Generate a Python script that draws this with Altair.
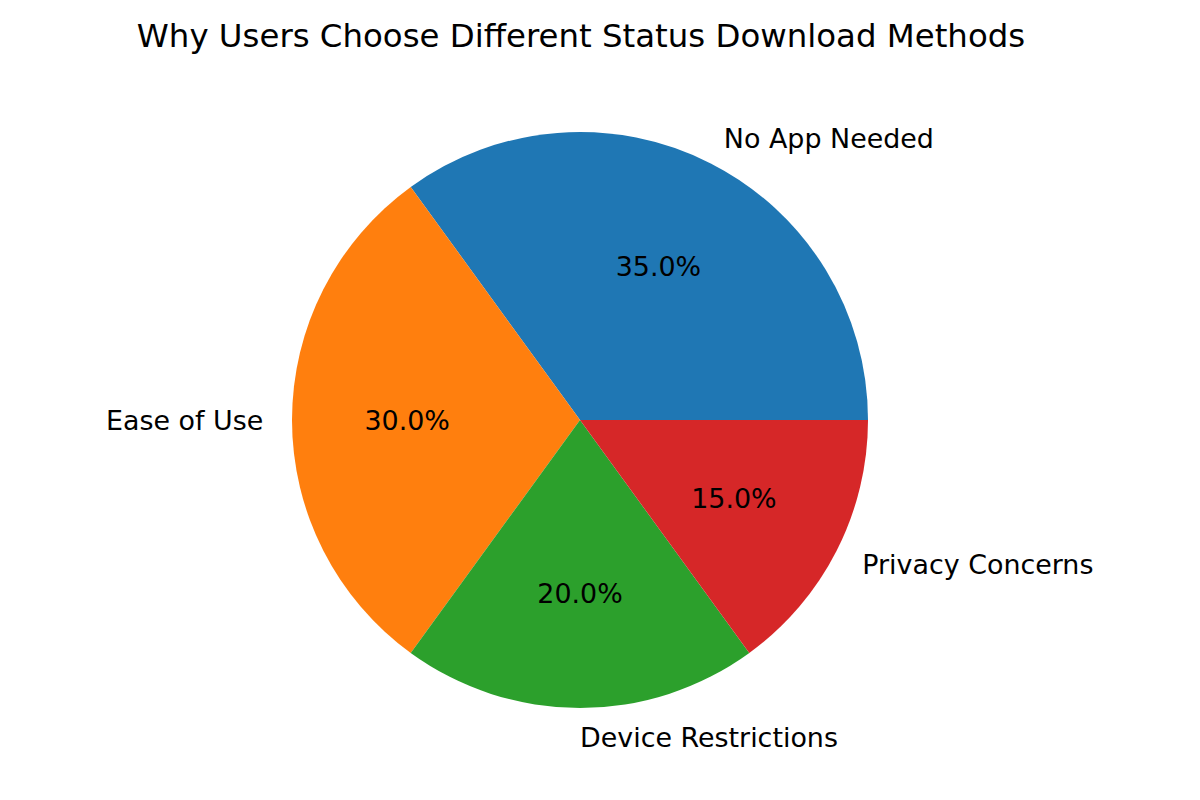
import math
import altair as alt
import pandas as pd

categories = ["No App Needed", "Ease of Use", "Device Restrictions", "Privacy Concerns"]
shares = [35, 30, 20, 15]
draw_order = [3, 2, 1, 0]          # clockwise order from 3 o'clock (matplotlib CCW reversed)
label_side = ["left", "right", "left", "left"]
colors = ["#1f77b4", "#ff7f0e", "#2ca02c", "#d62728"]

df = pd.DataFrame({"category": categories, "value": shares, "ord": draw_order, "side": label_side})

theta_scale = alt.Scale(domain=[0, 100], range=[math.pi / 2, math.pi / 2 + 2 * math.pi])
CX, CY, R = 572, 350, 288
FONT = "DejaVu Sans"
FS = 26.9

base = alt.Chart(df)

pie = base.mark_arc(outerRadius=R).encode(
    theta=alt.Theta("value:Q", stack=True, scale=theta_scale),
    order=alt.Order("ord:Q"),
    color=alt.Color("category:N", scale=alt.Scale(domain=categories, range=colors), legend=None),
    x=alt.value(CX),
    y=alt.value(CY),
)

mid = base.transform_window(
    cum="sum(value)", sort=[alt.SortField("ord")], frame=[None, 0]
).transform_calculate(
    mid="datum.cum - datum.value / 2",
    pct="format(datum.value, '.1f') + '%'",
)

pct_text = mid.mark_text(
    radius=R * 0.6, align="center", baseline="middle", fontSize=FS, font=FONT, color="black", dy=2
).encode(
    theta=alt.Theta("mid:Q", scale=theta_scale),
    text="pct:N",
    x=alt.value(CX),
    y=alt.value(CY),
)

labels_left = mid.transform_filter("datum.side == 'left'").mark_text(
    radius=R * 1.1, align="left", baseline="middle", fontSize=FS, font=FONT, color="black", dy=2
).encode(
    theta=alt.Theta("mid:Q", scale=theta_scale),
    text="category:N",
    x=alt.value(CX),
    y=alt.value(CY),
)

labels_right = mid.transform_filter("datum.side == 'right'").mark_text(
    radius=R * 1.1, align="right", baseline="middle", fontSize=FS, font=FONT, color="black", dy=2
).encode(
    theta=alt.Theta("mid:Q", scale=theta_scale),
    text="category:N",
    x=alt.value(CX),
    y=alt.value(CY),
)

chart = alt.layer(pie, pct_text, labels_left, labels_right).properties(
    width=1146,
    height=722,
    autosize="none",
    padding={"top": 62, "left": 0, "right": 0, "bottom": 0},
    title=alt.TitleParams(
        "Why Users Choose Different Status Download Methods",
        fontSize=32.4, font=FONT, fontWeight="normal", color="black", anchor="middle", offset=17,
    ),
).configure_view(stroke=None)

chart.save("out.html", embed_options={"renderer": "svg", "actions": False})
